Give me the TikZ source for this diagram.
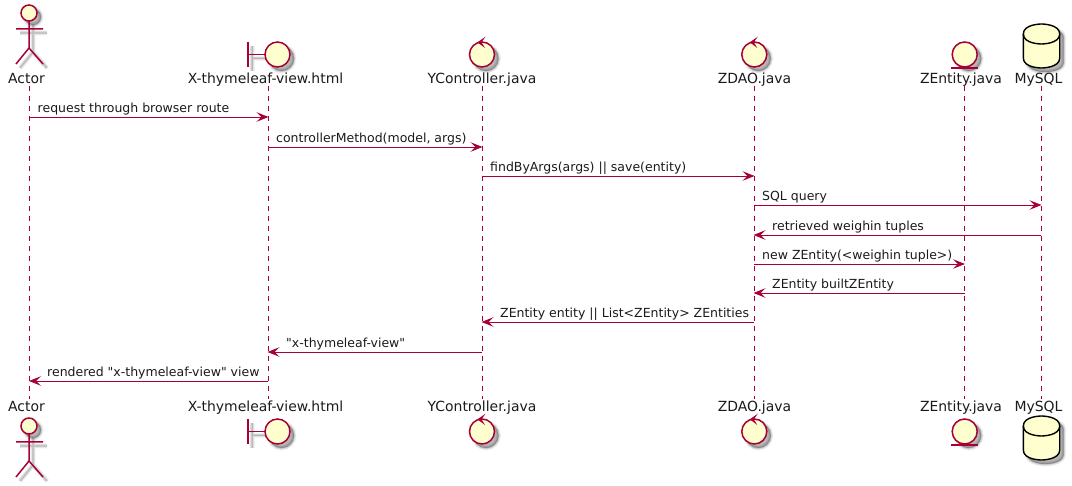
\documentclass[tikz,border=0pt]{standalone}
\usepackage{fontspec}
\newfontfamily\umlfont{DejaVu Sans}
\usetikzlibrary{arrows.meta}
\definecolor{umlred}{HTML}{A80036}
\definecolor{umlfill}{HTML}{FEFECE}
\definecolor{umlink}{HTML}{1A1A1A}
\newcommand{\softshadow}[2]{%
  \foreach \w/\o in {5/0.05,3.5/0.07,2/0.09,0.8/0.11}{
    \path[draw=black,draw opacity=\o,line width=\w pt,fill=#1,fill opacity=\o,shift={(4,4)}] #2;
  }}
\newcommand{\actorfig}[1]{\begin{scope}[shift={(0,#1)}]
  \softshadow{black}{(29,13) circle (8)}
  \softshadow{none}{(29,21) -- (29,48) (16,29) -- (43,29) (16,64) -- (29,48) -- (43,64)}
  \draw[umlpart] (29,13) circle (8);
  \draw[umlstroke] (29,21) -- (29,48) (16,29) -- (43,29) (16,64) -- (29,48) -- (43,64);
\end{scope}}
\newcommand{\boundaryfig}[1]{\begin{scope}[shift={(0,#1)}]
  \softshadow{black}{(277.5,54.5) circle (12.5)}
  \softshadow{none}{(248,42) -- (248,67) (248,54.5) -- (265,54.5)}
  \draw[umlpart] (277.5,54.5) circle (12.5);
  \draw[umlstroke] (248,42) -- (248,67) (248,54.5) -- (265,54.5);
\end{scope}}
\newcommand{\controlfig}[2]{\begin{scope}[shift={(#1,#2)}]
  \softshadow{black}{(0,54.5) circle (12.5)}
  \draw[umlpart] (0,54.5) circle (12.5);
  \fill[umlred] (-4.5,42.3) -- (3.5,36.7) -- (-0.5,42.3) -- (3,48) -- cycle;
\end{scope}}
\newcommand{\entityfig}[1]{\begin{scope}[shift={(0,#1)}]
  \softshadow{black}{(964.7,54.5) circle (12.5)}
  \draw[umlpart] (964.7,54.5) circle (12.5);
  \draw[umlstroke] (951,68) -- (977.5,68);
\end{scope}}
\newcommand{\dbfig}[1]{\begin{scope}[shift={(0,#1)}]
  \softshadow{black}{(1023.3,34) .. controls (1023.3,24) and (1041.5,24) .. (1041.5,24) .. controls (1041.5,24) and (1059.7,24) .. (1059.7,34) -- (1059.7,58) .. controls (1059.7,68) and (1041.5,68) .. (1041.5,68) .. controls (1041.5,68) and (1023.3,68) .. (1023.3,58) -- cycle}
  \draw[fill=umlfill,draw=black,line width=1.4pt] (1023.3,34) .. controls (1023.3,24) and (1041.5,24) .. (1041.5,24) .. controls (1041.5,24) and (1059.7,24) .. (1059.7,34) -- (1059.7,58) .. controls (1059.7,68) and (1041.5,68) .. (1041.5,68) .. controls (1041.5,68) and (1023.3,68) .. (1023.3,58) -- cycle;
  \draw[draw=black,line width=1.4pt] (1023.3,34) .. controls (1023.3,44) and (1041.5,44) .. (1041.5,44) .. controls (1041.5,44) and (1059.7,44) .. (1059.7,34);
\end{scope}}
\tikzset{
  x=1pt,y=-1pt,
  umlstroke/.style={draw=umlred,line width=1.5pt},
  umlpart/.style={draw=umlred,line width=1.5pt,fill=umlfill},
  lifeline/.style={draw=umlred,line width=0.9pt,dash pattern=on 5pt off 5pt},
  msgline/.style={draw=umlred,line width=0.9pt,-{Stealth[length=12pt,width=9.5pt,inset=5pt]},shorten >=-0.5pt},
  partlabel/.style={font=\umlfont\fontsize{13.95}{16}\selectfont,inner sep=0pt,anchor=base,text=umlink},
  msglabel/.style={font=\umlfont\fontsize{12.5}{14}\selectfont,inner sep=0pt,anchor=base west,text=umlink},
}
\begin{document}
\begin{tikzpicture}
\useasboundingbox (0,0) rectangle (1072,486);
% lifeline positions
\coordinate (lA) at (29.5,86);  \coordinate (lAe) at (29.5,399);
\coordinate (lX) at (268,86);   \coordinate (lXe) at (268,399);
\coordinate (lY) at (482,86);   \coordinate (lYe) at (482,399);
\coordinate (lZ) at (754,86);   \coordinate (lZe) at (754,399);
\coordinate (lE) at (964.5,86); \coordinate (lEe) at (964.5,399);
\coordinate (lM) at (1041,86);  \coordinate (lMe) at (1041,399);
\foreach \p in {A,X,Y,Z,E,M}{\draw[lifeline] (l\p) -- (l\p e);}
% participants
\actorfig{0}\actorfig{413}
\boundaryfig{0}\boundaryfig{377}
\controlfig{482}{0}\controlfig{482}{377}
\controlfig{754.3}{0}\controlfig{754.3}{377}
\entityfig{0}\entityfig{377}
\dbfig{0}\dbfig{392}
\foreach \n/\xx/\t in {A/26.5/Actor,X/265.5/X-thymeleaf-view.html,Y/482/YController.java,Z/754.5/ZDAO.java,E/961/ZEntity.java,M/1038.5/MySQL}{
  \node[partlabel] (top\n) at (\xx,84) {\t};
  \node[partlabel] (bot\n) at (\xx,412) {\t};
}
% messages
\draw[msgline] (lA |- 0,117) -- (lX |- 0,117);
\node[msglabel] (m1) at (37.5,113) {request through browser route};
\draw[msgline] (lX |- 0,147) -- (lY |- 0,147);
\node[msglabel] (m2) at (276,143) {controllerMethod(model, args)};
\draw[msgline] (lY |- 0,176) -- (lZ |- 0,176);
\node[msglabel] (m3) at (490,172) {findByArgs(args) || save(entity)};
\draw[msgline] (lZ |- 0,205) -- (lM |- 0,205);
\node[msglabel] (m4) at (762,201) {SQL query};
\draw[msgline] (lM |- 0,235) -- (lZ |- 0,235);
\node[msglabel] (m5) at (772,231) {retrieved weighin tuples};
\draw[msgline] (lZ |- 0,264) -- (lE |- 0,264);
\node[msglabel] (m6) at (762,260) {new ZEntity(<weighin tuple>)};
\draw[msgline] (lE |- 0,293) -- (lZ |- 0,293);
\node[msglabel] (m7) at (772,289) {ZEntity builtZEntity};
\draw[msgline] (lZ |- 0,322) -- (lY |- 0,322);
\node[msglabel] (m8) at (500,318) {ZEntity entity || List<ZEntity> ZEntities};
\draw[msgline] (lY |- 0,352) -- (lX |- 0,352);
\node[msglabel] (m9) at (286,348) {"x-thymeleaf-view"};
\draw[msgline] (lX |- 0,381) -- (lA |- 0,381);
\node[msglabel] (m10) at (47,377) {rendered "x-thymeleaf-view" view};
\end{tikzpicture}
\end{document}
